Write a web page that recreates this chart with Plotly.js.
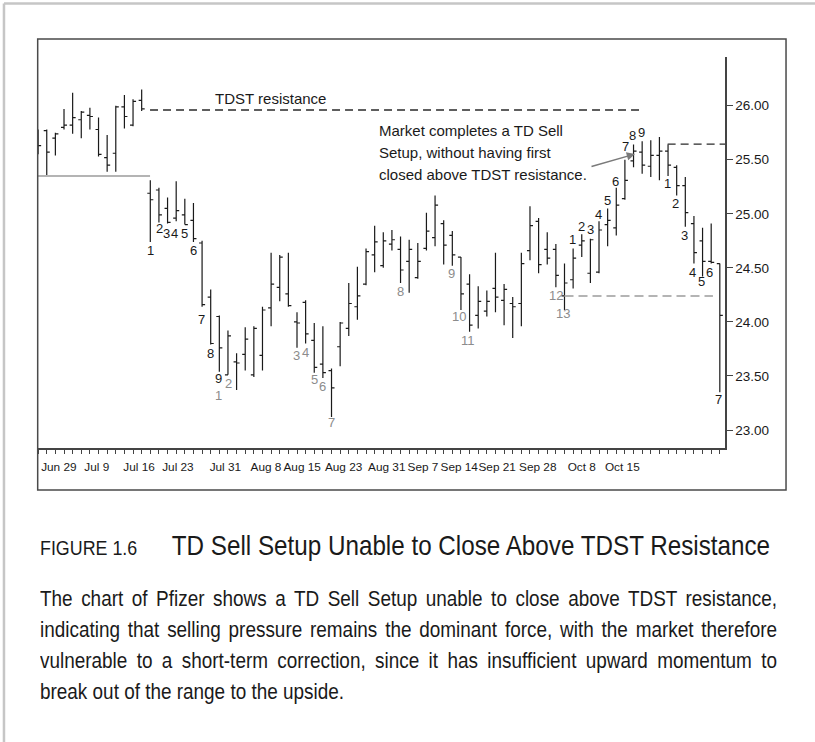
<!DOCTYPE html>
<html><head><meta charset="utf-8">
<script src="https://cdn.plot.ly/plotly-3.0.1.min.js"></script>
<style>
html,body{margin:0;padding:0;background:#fff;}
#wrap{position:relative;width:815px;height:742px;overflow:hidden;}
#chart{position:absolute;left:0;top:0;width:815px;height:742px;}
.cap{position:absolute;left:40px;font-family:"Liberation Sans",Arial,sans-serif;color:#1a1a1a;white-space:nowrap;transform-origin:0 0;}
#figrow{top:527px;line-height:36px;transform:scaleX(0.85);}
#figno{display:inline-block;width:155px;font-size:21px;}
#figtitle{font-size:28.5px;}
#para{top:583px;width:857px;font-size:22px;line-height:31px;transform:scaleX(0.86);}
#para div{text-align:justify;text-align-last:justify;}
#para div.last{text-align-last:left;}
</style></head>
<body><div id="wrap"><div id="chart"></div>
<div class="cap" id="figrow"><span id="figno">FIGURE 1.6</span><span id="figtitle">TD Sell Setup Unable to Close Above TDST Resistance</span></div>
<div class="cap" id="para">
<div>The chart of Pfizer shows a TD Sell Setup unable to close above TDST resistance,</div>
<div>indicating that selling pressure remains the dominant force, with the market therefore</div>
<div>vulnerable to a short-term correction, since it has insufficient upward momentum to</div>
<div class="last">break out of the range to the upside.</div>
</div></div>
<script>
// ---- data (Pfizer daily bars) ----
const openP  = [25.70,25.77,25.70,25.80,25.82,25.87,25.91,25.78,25.52,25.56,25.99,25.82,26.05,25.19,25.22,25.05,24.96,24.99,24.94,24.73,24.23,24.05,23.51,23.63,23.70,23.51,23.69,24.13,24.32,24.26,24.00,24.18,23.83,23.61,23.55,23.77,23.94,24.14,24.35,24.62,24.52,24.72,24.67,24.56,24.41,24.68,24.78,24.91,24.80,24.60,24.35,24.06,24.10,24.31,24.20,24.17,24.17,24.66,24.93,24.67,24.67,24.24,24.39,24.71,24.45,24.46,24.90,24.87,25.14,25.49,25.57,25.44,25.54,25.58,25.43,25.26,24.91,24.75,24.56,24.54];
const highP  = [25.78,25.78,25.75,25.97,26.12,25.95,25.98,25.89,25.73,26.00,26.10,26.06,26.15,25.31,25.24,25.15,25.30,25.14,25.10,24.75,24.30,24.06,23.92,23.71,23.95,23.96,24.14,24.64,24.62,24.64,24.09,24.20,23.99,23.96,23.57,24.00,24.36,24.51,24.68,24.89,24.83,24.85,24.79,24.76,24.73,25.01,25.17,24.94,24.84,24.60,24.44,24.33,24.29,24.64,24.35,24.23,24.64,25.07,24.96,24.83,24.72,24.54,24.68,24.81,24.77,24.93,25.05,25.24,25.50,25.64,25.67,25.68,25.71,25.64,25.45,25.34,24.98,24.87,24.91,24.54];
const lowP   = [25.55,25.36,25.54,25.78,25.74,25.70,25.78,25.53,25.39,25.39,25.79,25.81,25.95,24.74,24.92,24.91,24.93,24.90,24.74,24.14,23.79,23.54,23.51,23.37,23.55,23.49,23.55,23.96,24.19,24.14,23.76,23.80,23.53,23.48,23.12,23.59,23.87,24.02,24.34,24.46,24.50,24.66,24.36,24.27,24.40,24.66,24.70,24.53,24.52,24.11,23.91,23.94,24.05,24.09,23.97,23.85,23.96,24.57,24.45,24.53,24.32,24.11,24.31,24.60,24.36,24.45,24.70,24.80,25.13,25.43,25.37,25.34,25.31,25.35,25.17,24.88,24.54,24.42,24.54,23.35];
const closeP = [25.63,25.57,25.74,25.82,25.89,25.94,25.90,25.55,25.45,25.99,25.90,26.04,25.97,25.13,24.99,24.92,25.03,24.90,24.77,24.16,23.80,23.76,23.87,23.62,23.84,23.94,24.11,24.35,24.60,24.15,23.99,23.89,23.58,23.53,23.39,23.99,24.17,24.24,24.65,24.74,24.75,24.76,24.48,24.67,24.56,24.84,25.08,24.71,24.62,24.26,23.97,24.19,24.19,24.23,24.30,24.14,24.54,24.89,24.53,24.59,24.43,24.36,24.59,24.75,24.76,24.85,24.94,25.08,25.31,25.58,25.45,25.54,25.58,25.45,25.26,25.01,24.64,24.56,24.55,24.06];

const dateLabels = ['Jun 29','Jul 9','Jul 16','Jul 23','Jul 31','Aug 8','Aug 15','Aug 23','Aug 31','Sep 7','Sep 14','Sep 21','Sep 28','Oct 8','Oct 15'];
const dateLabelBars = [2.4,6.8,11.7,16.2,21.7,26.4,30.6,35.4,40.4,44.6,48.8,53.2,57.9,63.0,67.7];
const priceTicks = [23.0,23.5,24.0,24.5,25.0,25.5,26.0];

// levels: [value, from bar, to bar]
const tdstResistance = [25.96, 12.97, 69.7];
const tdstSupport    = [25.35, -0.13, 12.97];
const countdownLevel = [24.24, 61.0, 78.2];
const newResistance  = [25.645, 72.95, 79.6];

// setup / countdown numbers: [text, bar, price]
const setupCounts = [['1',12.97,24.659],['2',14.04,24.866],['3',14.90,24.820],['4',15.86,24.820],['5',17.0,24.820],['6',17.98,24.659],
 ['7',18.96,24.018],['8',20.03,23.710],['9',20.96,23.478],
 ['1',61.89,24.758],['2',62.99,24.881],['3',63.96,24.857],['4',64.91,24.989],['5',65.96,25.121],['6',66.93,25.297],['7',68.05,25.621],['8',68.90,25.720],['9',69.98,25.750],
 ['1',72.96,25.276],['2',73.84,25.097],['3',74.96,24.795],['4',75.85,24.455],['5',76.93,24.372],['6',77.86,24.455],['7',78.90,23.284]];
const countdownCounts = [['1',20.96,23.319],['2',22.04,23.432],['3',29.97,23.685],['4',30.96,23.715],['5',32.00,23.463],['6',32.98,23.400],['7',34.05,23.065],
 ['8',42.02,24.279],['9',47.93,24.449],['10',48.81,24.048],['11',49.85,23.832],['12',59.98,24.240],['13',60.85,24.080]];

// callout text lines: [text, bar, price]
const callout = [['Market completes a TD Sell', 39.27, 25.775], ['Setup, without having first', 39.27, 25.567], ['closed above TDST resistance.', 39.27, 25.359]];

const FONT = '"Liberation Sans", Arial, sans-serif';
const INK = '#1a1a1a', GREY = '#8c8c8c', LGREY = '#b4b4b4', AX = '#444';

const xIdx = openP.map((_, i) => i);
const trace = {
  type: 'ohlc', x: xIdx, open: openP, high: highP, low: lowP, close: closeP,
  increasing: {line: {color: INK, width: 1.2}}, decreasing: {line: {color: INK, width: 1.2}},
  tickwidth: 0.35, hoverinfo: 'skip', showlegend: false
};

function hline(lv, color, dash, width) {
  return {type: 'line', xref: 'x', yref: 'y', x0: lv[1], x1: lv[2], y0: lv[0], y1: lv[0],
    line: {color: color, dash: dash, width: width}};
}
const shapes = [
  hline(tdstResistance, '#2a2a2a', '8px,5px', 1.3),
  hline(tdstSupport, LGREY, 'solid', 2),
  hline(countdownLevel, LGREY, '9px,5px', 2),
  hline(newResistance, '#2a2a2a', '8px,5px', 1.3),
  {type: 'rect', xref: 'paper', yref: 'paper', x0: 0.001, x1: 1.0887, y0: -0.1074, y1: 1.0460, line: {color: '#4a4a4a', width: 1.5}},
  {type: 'line', xref: 'paper', yref: 'paper', x0: -0.0480, x1: 1.2, y0: 1.1368, y1: 1.1368, line: {color: '#c6c6c6', width: 2.5}},
  {type: 'line', xref: 'paper', yref: 'paper', x0: -0.0480, x1: -0.0480, y0: 1.1368, y1: -0.8, line: {color: '#c6c6c6', width: 2.5}}
];

const annotations = [];
setupCounts.forEach(c => annotations.push({x: c[1], y: c[2], text: c[0], showarrow: false, xanchor: 'center', yanchor: 'middle', font: {family: FONT, size: 13, color: INK}}));
countdownCounts.forEach(c => annotations.push({x: c[1], y: c[2], text: c[0], showarrow: false, xanchor: 'center', yanchor: 'middle', font: {family: FONT, size: 13, color: GREY}}));
annotations.push({x: 20.27, y: 26.071, text: 'TDST resistance', showarrow: false, xanchor: 'left', yanchor: 'middle', font: {family: FONT, size: 15, color: INK}});
callout.forEach(c => annotations.push({x: c[1], y: c[2], text: c[0], showarrow: false, xanchor: 'left', yanchor: 'middle', font: {family: FONT, size: 15, color: INK}}));
annotations.push({x: 69.17, y: 25.553, text: '', showarrow: true, ax: -45, ay: 13, arrowhead: 2, arrowsize: 1.1, arrowwidth: 1.5, arrowcolor: '#7a7a7a', standoff: 0});

const layout = {
  width: 815, height: 742,
  margin: {l: 37, r: 90, t: 57, b: 294, pad: 0},
  paper_bgcolor: 'rgba(0,0,0,0)', plot_bgcolor: 'rgba(0,0,0,0)',
  showlegend: false, dragmode: false,
  font: {family: FONT, color: INK, size: 13},
  xaxis: {range: [-0.13, 79.6], showgrid: false, zeroline: false, showline: true, linecolor: AX, linewidth: 1.5,
    tickmode: 'array', tickvals: dateLabelBars, ticktext: dateLabels, tickangle: 0, ticks: 'outside', ticklen: 7, tickcolor: 'rgba(0,0,0,0)',
    tickfont: {family: FONT, size: 11.8, color: INK},
    minor: {tickmode: 'linear', tick0: 0, dtick: 1, ticks: 'outside', ticklen: 4, tickcolor: AX, tickwidth: 1, showgrid: false},
    rangeslider: {visible: false}, fixedrange: true},
  yaxis: {side: 'right', range: [22.8335, 26.4505], showgrid: false, zeroline: false, showline: true, linecolor: AX, linewidth: 1.5,
    tickmode: 'array', tickvals: priceTicks, tickformat: '.2f', ticks: 'outside', ticklen: 6, tickcolor: AX, tickwidth: 1,
    tickfont: {family: FONT, size: 13.5, color: INK}, fixedrange: true},
  shapes: shapes, annotations: annotations
};

Plotly.newPlot('chart', [trace], layout, {staticPlot: true, displayModeBar: false});
</script></body></html>
